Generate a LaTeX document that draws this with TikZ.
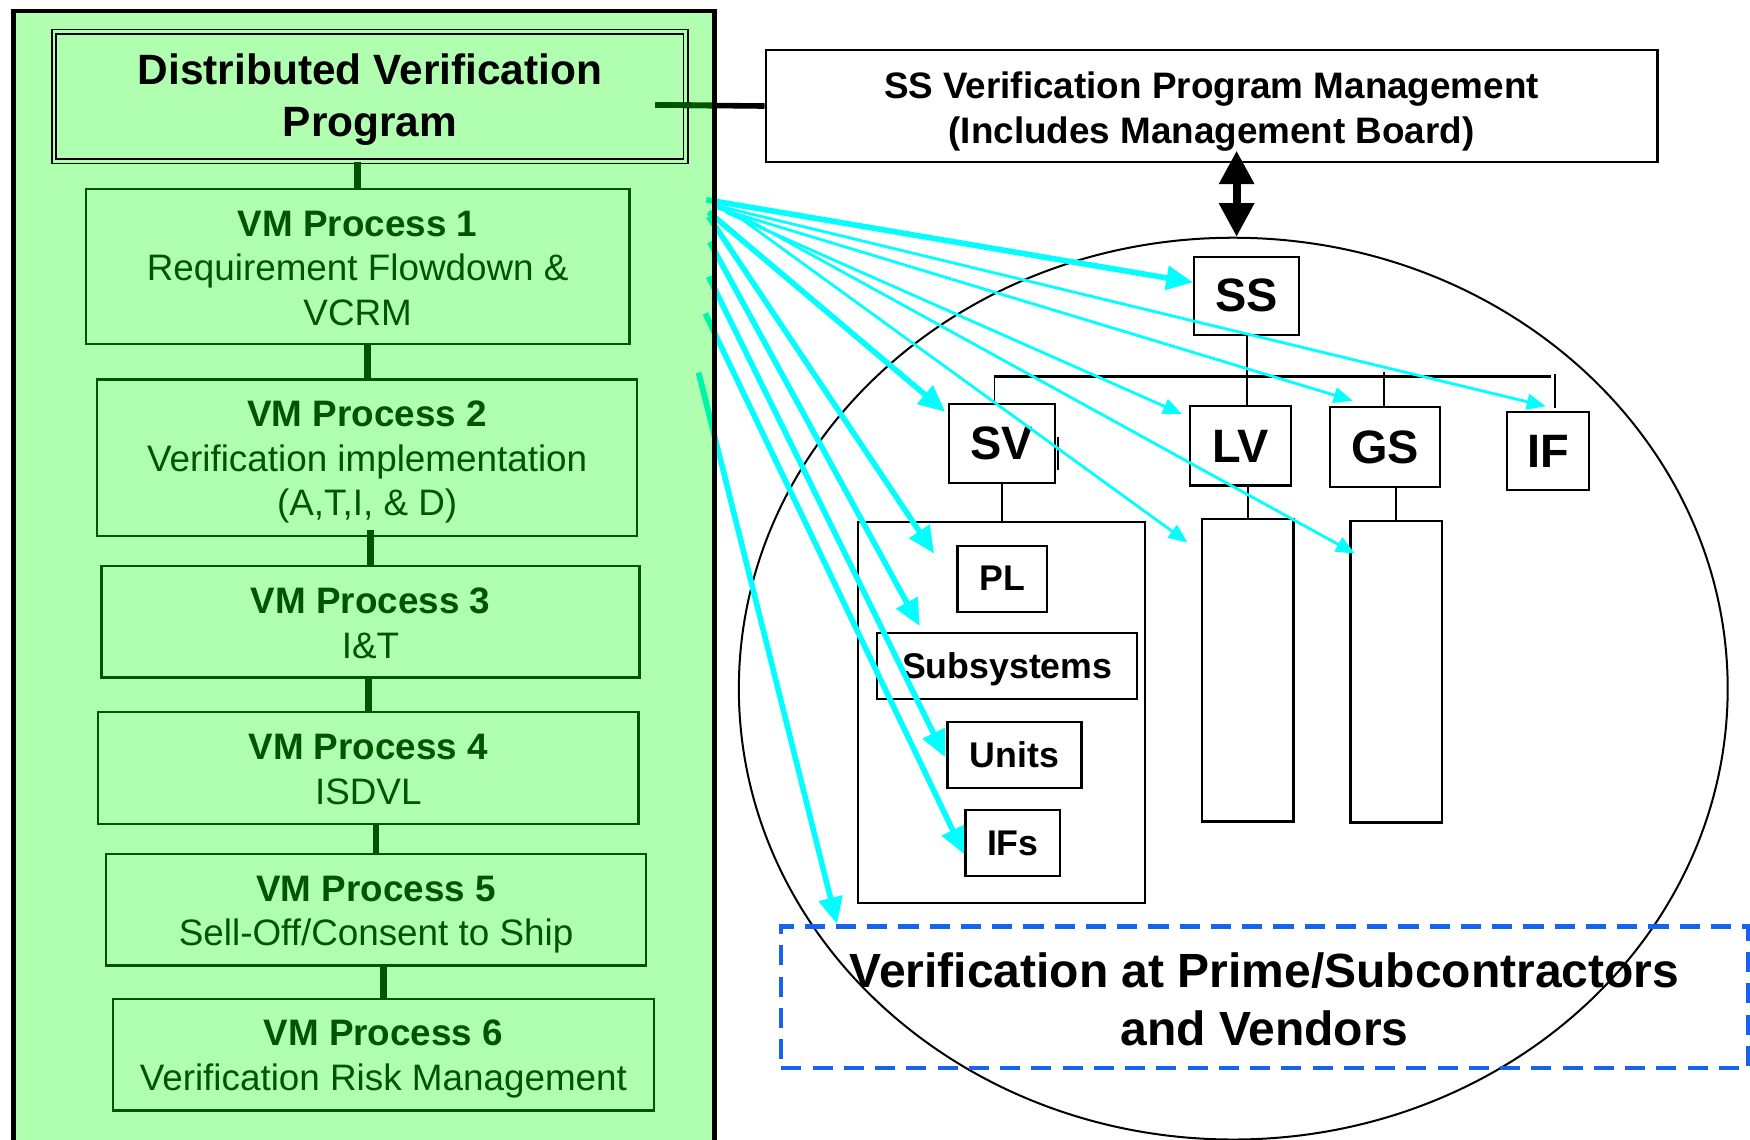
\documentclass[tikz,border=0pt]{standalone}
\usepackage{fontspec}
\setmainfont{Liberation Sans}
\usetikzlibrary{arrows.meta,calc,shapes.geometric}
\definecolor{panelgreen}{RGB}{176,255,176}
\definecolor{vmgreen}{RGB}{0,85,0}
\definecolor{mintc}{RGB}{0,245,165}
\definecolor{dashblue}{RGB}{20,100,240}
\definecolor{arrowcyan}{RGB}{0,255,255}
\tikzset{
  vmbox/.style={draw=vmgreen, line width=2pt, inner sep=0pt},
  vmtext/.style={inner sep=0pt, align=center, text=vmgreen, font=\fontsize{33}{40}\selectfont},
  blkbox/.style={draw=black, line width=2pt, inner sep=0pt, align=center},
  bigletter/.style={blkbox, font=\fontsize{42}{50}\selectfont\bfseries},
  smallbox/.style={blkbox, font=\fontsize{32}{38}\selectfont\bfseries},
  vmlink/.style={draw=vmgreen, line width=6pt},
  treeline/.style={draw=black, line width=1.6pt},
  cthick/.style={draw=arrowcyan, line width=5pt, -{Triangle[length=24pt,width=21pt]}},
  cthin/.style={draw=arrowcyan, line width=2.5pt, -{Triangle[length=17pt,width=14pt]}},
}
\begin{document}
\begin{tikzpicture}[x=1pt,y=-1pt]
\useasboundingbox (0,0) rectangle (1568,1021);
% green panel background
\fill[panelgreen] (12,10) rectangle (640,1040);

% left column
\node[draw, line width=1.3pt, double=panelgreen, double distance=2.4pt, minimum width=566pt, minimum height=116pt, inner sep=0pt] (title) at (331.5,86.5) {};
\node[inner sep=0pt, align=center, font=\fontsize{38}{47}\selectfont\bfseries, yshift=-3pt] (titlet) at (title) {Distributed Verification\\Program};

\node[vmbox, minimum width=487pt, minimum height=139pt] (vm1) at (320.5,238.5) {};
\node[vmtext, yshift=-2pt] (vm1t) at (vm1) {\textbf{VM Process 1}\\Requirement Flowdown \&\\VCRM};
\node[vmbox, minimum width=484pt, minimum height=140pt] (vm2) at (329,410) {};
\node[vmtext, yshift=-4pt] (vm2t) at (vm2) {\textbf{VM Process 2}\\Verification implementation\\(A,T,I, \& D)};
\node[vmbox, minimum width=482pt, minimum height=100pt] (vm3) at (332,557) {};
\node[vmtext, yshift=-1.5pt] (vm3t) at (vm3) {\textbf{VM Process 3}\\I\&T};
\node[vmbox, minimum width=484pt, minimum height=100pt] (vm4) at (330,688) {};
\node[vmtext, yshift=-1.5pt] (vm4t) at (vm4) {\textbf{VM Process 4}\\ISDVL};
\node[vmbox, minimum width=484pt, minimum height=100pt] (vm5) at (337,815) {};
\node[vmtext, yshift=-4.5pt] (vm5t) at (vm5) {\textbf{VM Process 5}\\Sell-Off/Consent to Ship};
\node[vmbox, minimum width=485pt, minimum height=100pt] (vm6) at (343.5,945) {};
\node[vmtext, yshift=-4pt] (vm6t) at (vm6) {\textbf{VM Process 6}\\Verification Risk Management};

\draw[vmlink] (title.south -| vm1.north) -- (vm1.north);
\draw[vmlink] (vm1.south -| vm2.north) -- (vm2.north);
\draw[vmlink] ($(vm2.south -| vm3.north)+(0,-6)$) -- (vm3.north);
\draw[vmlink] (vm3.south -| vm4.north) -- (vm4.north);
\draw[vmlink] (vm4.south -| vm5.north) -- (vm5.north);
\draw[vmlink] (vm5.south -| vm6.north) -- (vm6.north);

% right side
\node[blkbox, minimum width=799pt, minimum height=100pt] (mgmt) at (1085.5,95) {};
\node[inner sep=0pt, align=center, font=\fontsize{33}{40}\selectfont\bfseries, yshift=-5pt] (mgmtt) at (mgmt) {SS Verification Program Management\\(Includes Management Board)};
\node[ellipse, draw, line width=1.8pt, minimum width=886pt, minimum height=808pt, inner sep=0pt] (world) at (1105,617) {};

\node[bigletter, minimum width=94pt, minimum height=70pt] (SS) at (1117,265) {SS};
\node[bigletter, minimum width=95pt, minimum height=71pt] (SV) at (897.5,397.5) {\raisebox{-2pt}{SV}};
\node[bigletter, minimum width=91pt, minimum height=71pt] (LV) at (1111.5,399.5) {LV};
\node[bigletter, minimum width=98pt, minimum height=71pt] (GS) at (1241,400.5) {GS};
\node[bigletter, minimum width=74pt, minimum height=70pt] (IF) at (1387,404) {IF};

\node[blkbox, minimum width=257pt, minimum height=341pt] (SVcol) at (897.5,638.5) {};
\node[blkbox, minimum width=82pt, minimum height=271pt] (LVcol) at (1118,600.5) {};
\node[blkbox, minimum width=82pt, minimum height=270pt] (GScol) at (1251,602) {};

\node[smallbox, minimum width=80pt, minimum height=59pt] (PL) at (898,518.5) {PL};
\node[smallbox, minimum width=233pt, minimum height=59pt] (Sub) at (902.5,596.5) {};
\node[inner sep=0pt, font=\fontsize{32}{38}\selectfont\bfseries, yshift=-3pt] (Subt) at (Sub) {Subsystems};
\node[smallbox, minimum width=120pt, minimum height=59pt] (Units) at (909,676.5) {Units};
\node[smallbox, minimum width=85pt, minimum height=59pt] (IFs) at (907.5,755.5) {IFs};

\node[draw=dashblue, line width=4pt, dash pattern=on 18pt off 10pt, minimum width=866pt, minimum height=127pt, inner sep=0pt] (vend) at (1133,893.5) {};
\node[inner sep=0pt, align=center, font=\fontsize{43}{52}\selectfont\bfseries, yshift=-2pt] (vendt) at (vend) {Verification at Prime/Subcontractors\\and Vendors};

% tree
\coordinate (barL) at (891,337);
\coordinate (barR) at (1390,337);
\coordinate (gsTop) at (1240,333);
\coordinate (ifTop) at (1393,335);
\draw[treeline] (SS.south) -- (SS.south |- LV.north);
\draw[black, line width=2.5pt] (barL) -- (barR);
\draw[treeline] (barL) -- (barL |- SV.north);
\draw[treeline] (gsTop) -- (gsTop |- GS.north);
\draw[treeline] (ifTop) -- ($(ifTop |- IF.north)+(0,-2)$);
\draw[treeline] (SV.south) -- (SVcol.north);
\draw[treeline] (LVcol.north |- LV.south) -- (LVcol.north);
\draw[treeline] (GScol.north |- GS.south) -- (GScol.north);
\draw[treeline] ($(SV.east)+(2,-6)$) -- ($(SV.east)+(2,24)$);

% management link and double arrow
\coordinate (t1) at (587,94);
\draw[black, line width=5pt] (t1) -- (mgmt.west);
\coordinate (mgA) at (1108,135);
\draw[black, line width=7pt, {Triangle[length=30pt,width=30pt]}-{Triangle[length=30pt,width=30pt]}] (mgA) -- (mgA |- world.north);

% cyan arrows
\coordinate (s1) at (633,179);
\coordinate (s2) at (641,184);
\coordinate (s3) at (641,186);
\coordinate (s4) at (650,190);
\coordinate (s5) at (635,190);
\coordinate (s6) at (660,193);
\coordinate (s7) at (663,193);
\coordinate (s8) at (635,194);
\coordinate (s9) at (636,217);
\coordinate (s10) at (635,248);
\coordinate (s11) at (632,281);
\coordinate (s12) at (626,334);
\coordinate (e1) at ($(SS.west)+(0,-12)$);
\coordinate (e2) at ($(IF.north)+(-2,-4)$);
\coordinate (e3) at ($(GS.north west)+(21,-5)$);
\coordinate (e4) at ($(LV.north west)+(-6,8)$);
\coordinate (e5) at ($(SV.north west)+(-2,8)$);
\coordinate (e6) at ($(LVcol.north west)+(-12,22)$);
\coordinate (e7) at ($(GScol.north west)+(5,30)$);
\coordinate (e8) at ($(PL.north west)+(-20,8)$);
\coordinate (e9) at ($(Sub.north west)+(39,-5)$);
\coordinate (e10) at ($(Units.west)+(-1,2)$);
\coordinate (e11) at ($(IFs.west)+(0,10)$);
\coordinate (e12) at ($(vend.north west)+(52,0)$);
\foreach \i in {2,3,4,6,7} \draw[cthin] (s\i) -- (e\i);
\foreach \i in {1,5,8,9,10,11,12} \draw[cthick] (s\i) -- (e\i);

% parts seen through the panel
\begin{scope}
\clip (12,10) rectangle (640,1040);
\draw[vmgreen, line width=5pt] (t1) -- (mgmt.west);
\foreach \i in {1,5,8,9,10,11,12} \draw[mintc, line width=5pt] (s\i) -- (e\i);
\end{scope}

% panel border
\draw[black, line width=4pt] (12,1040) -- (12,10) -- (640,10) -- (640,1040);
\end{tikzpicture}
\end{document}
